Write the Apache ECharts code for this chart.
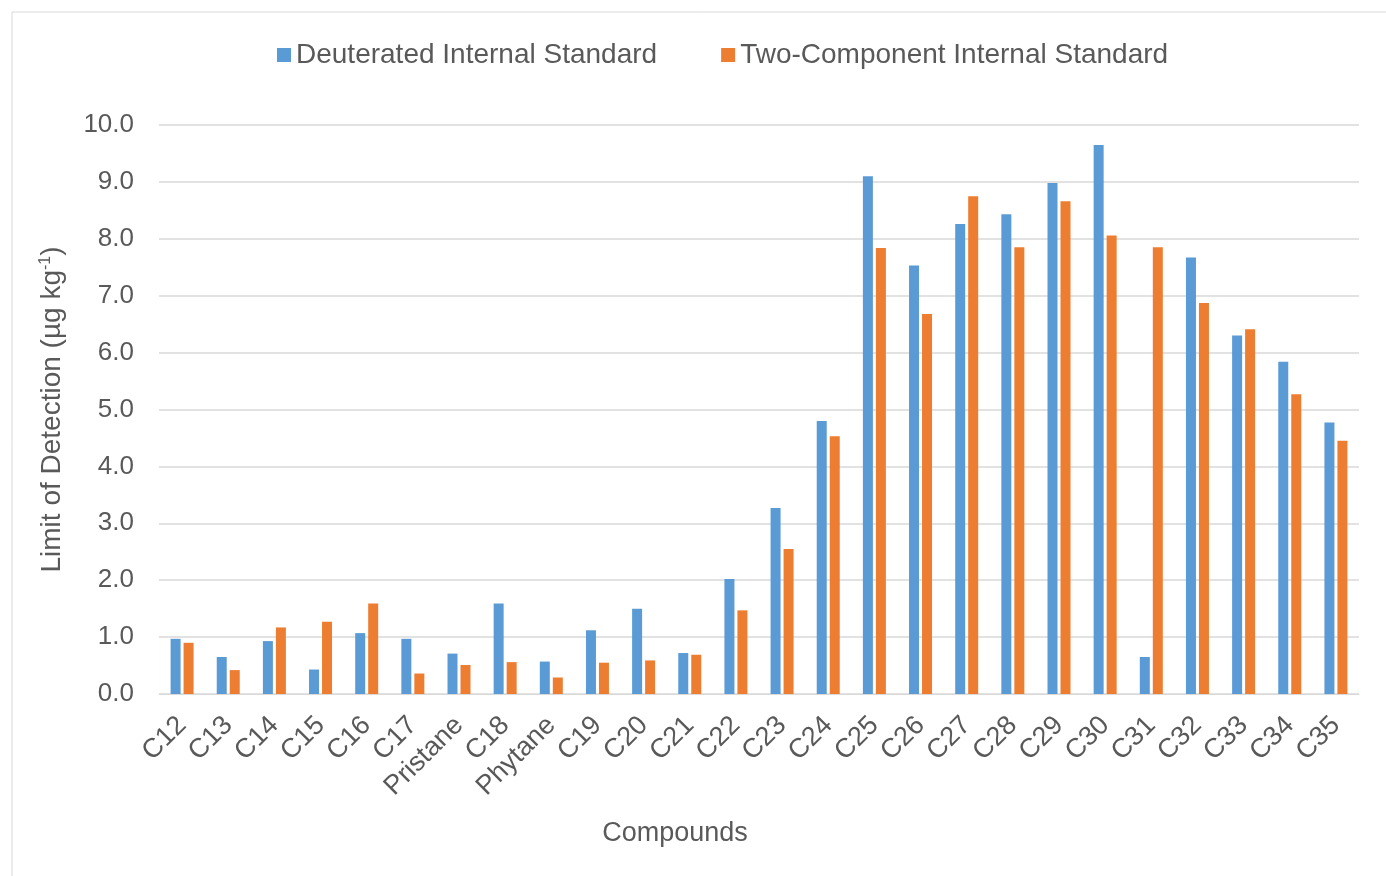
<!DOCTYPE html>
<html>
<head>
<meta charset="utf-8">
<script src="https://cdn.jsdelivr.net/npm/echarts@6/dist/echarts.min.js"></script>
<style>
  html, body { margin: 0; padding: 0; background: #fff; }
  #main { width: 1386px; height: 876px; }
</style>
</head>
<body>
<div id="main"></div>
<script>
  // compounds on the x axis
  var categories = ['C12', 'C13', 'C14', 'C15', 'C16', 'C17', 'Pristane', 'C18', 'Phytane',
    'C19', 'C20', 'C21', 'C22', 'C23', 'C24', 'C25', 'C26', 'C27', 'C28', 'C29', 'C30',
    'C31', 'C32', 'C33', 'C34', 'C35'];
  var deuterated = [0.97, 0.65, 0.93, 0.43, 1.07, 0.97, 0.71, 1.59, 0.57,
    1.12, 1.50, 0.72, 2.02, 3.27, 4.80, 9.10, 7.53, 8.26, 8.43, 8.98, 9.65,
    0.65, 7.67, 6.30, 5.84, 4.77];
  var twoComponent = [0.90, 0.42, 1.17, 1.27, 1.59, 0.36, 0.51, 0.56, 0.29,
    0.55, 0.59, 0.69, 1.47, 2.55, 4.53, 7.84, 6.68, 8.75, 7.85, 8.66, 8.06,
    7.85, 6.87, 6.41, 5.27, 4.45];

  var textColor = '#595959';
  var font = 'Liberation Sans, Arial, sans-serif';

  var chart = echarts.init(document.getElementById('main'));
  chart.setOption({
    animation: false,
    textStyle: { fontFamily: font, color: textColor },
    graphic: [{
      type: 'rect',
      shape: { x: 12, y: 12, width: 1400, height: 900 },
      style: { fill: 'none', stroke: '#d9d9d9', lineWidth: 1 },
      silent: true
    }],
    legend: {
      top: 36,
      left: 272,
      itemWidth: 14,
      itemHeight: 14,
      itemGap: 64,
      icon: 'rect',
      textStyle: { fontSize: 28, color: textColor, fontFamily: font },
      data: ['Deuterated Internal Standard', 'Two-Component Internal Standard']
    },
    grid: { left: 159, right: 27, top: 125, bottom: 182 },
    xAxis: {
      type: 'category',
      data: categories,
      name: 'Compounds',
      nameLocation: 'middle',
      nameGap: 126,
      nameTextStyle: { fontSize: 27, color: textColor, fontFamily: font, padding: [0, 168, 0, 0] },
      axisLine: { lineStyle: { color: '#d9d9d9', width: 1 } },
      axisTick: { show: false },
      axisLabel: { rotate: 45, fontSize: 27, color: textColor, fontFamily: font, margin: 27, interval: 0 }
    },
    yAxis: {
      type: 'value',
      min: 0,
      max: 10,
      interval: 1,
      name: 'Limit of Detection (µg kg{sup|-1})',
      nameLocation: 'middle',
      nameGap: 93,
      nameTextStyle: {
        fontSize: 28, color: textColor, fontFamily: font,
        rich: { sup: { fontSize: 16, verticalAlign: 'top', padding: [0, 0, 12, 0], color: textColor, fontFamily: font } }
      },
      axisLine: { show: false },
      axisTick: { show: false },
      splitLine: { lineStyle: { color: '#d9d9d9', width: 1.5 } },
      axisLabel: {
        fontSize: 26, color: textColor, fontFamily: font, margin: 25,
        formatter: function (v) { return v.toFixed(1); }
      }
    },
    series: [{
      name: 'Deuterated Internal Standard',
      type: 'bar',
      data: deuterated,
      barWidth: 10,
      barGap: '30%',
      itemStyle: { color: '#5b9bd5' }
    }, {
      name: 'Two-Component Internal Standard',
      type: 'bar',
      data: twoComponent,
      barWidth: 10,
      itemStyle: { color: '#ed7d31' }
    }]
  });
</script>
</body>
</html>
